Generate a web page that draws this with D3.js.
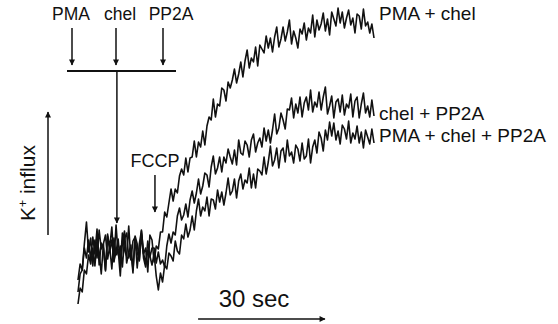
<!DOCTYPE html>
<html>
<head>
<meta charset="utf-8">
<script src="https://cdn.jsdelivr.net/npm/d3@7"></script>
<style>
  body { margin: 0; background: #fff; }
  text { font-family: "Liberation Sans", Arial, sans-serif; fill: #111; }
</style>
</head>
<body>
<div id="chart"></div>
<script>
// sampling interval of the traces, seconds
var step = 0.5;

// K+ influx traces (arbitrary units), one value every 0.5 s
var pmaChel = [18,36,40,66,
  88,58,72,44,70,52,80,61,66,40,74,63,83,49,58,71,45,77,60,54,
  84,50,69,73,42,66,79,56,62,38,75,70,48,64,
  61,78,78,98,93,107,121,109,121,117,134,141,135,152,138,152,153,169,153,168,
  163,179,165,184,193,190,211,193,206,204,222,220,209,228,222,230,241,227,236,248,
  233,249,260,242,252,248,263,244,265,261,257,274,262,272,258,273,283,263,271,283,
  269,278,290,266,279,272,262,281,276,287,270,282,277,295,273,290,280,286,297,279,
  291,275,298,291,284,302,287,298,282,292,300,285,292,277,296,294,281,301,284,288,
  277,286,272];
var chelPP2A = [30,46,40,62,52,70,
  50,73,56,81,45,67,62,39,76,58,70,48,85,55,64,43,71,77,52,60,
  37,74,66,50,80,57,46,69,53,62,
  62,47,58,46,50,43,64,76,67,78,75,94,102,90,95,106,93,110,119,107,
  117,131,116,124,137,135,123,143,154,136,142,153,138,153,147,161,153,146,160,145,
  170,157,155,169,165,153,170,176,158,167,172,163,182,169,180,167,180,196,176,182,
  197,190,181,201,200,212,192,206,197,213,193,207,213,200,220,198,208,203,218,200,
  213,223,196,204,214,192,208,211,198,215,195,206,202,216,193,209,213,192,206,217,
  197,204,193,210,194];
var pmaChelPP2A = [6,22,18,40,36,55,46,62,
  44,70,58,36,66,75,51,63,41,72,55,60,34,68,79,47,57,65,40,71,
  58,49,76,52,43,60,
  54,45,56,34,20,37,28,45,41,57,54,49,69,59,56,75,71,86,73,80,
  94,80,99,111,94,103,99,113,94,111,110,101,120,108,118,105,117,132,115,119,
  131,112,129,136,121,130,127,142,122,136,122,141,139,135,153,136,148,164,144,150,
  162,142,159,162,148,170,154,158,147,165,161,149,167,151,154,171,147,163,170,157,
  178,172,159,180,170,188,174,187,170,179,166,185,181,171,189,167,177,171,184,167,
  178,162,180,173,166,181,167];

var traceLabels = ["PMA + chel", "chel + PP2A", "PMA + chel + PP2A"];
var additionLabels = ["PMA", "chel", "PP2A"];

// event times (s) and scale bar
var additionTime = 9.2;
var fccpTime = 18.2;
var scaleBarStart = 28.4;
var scaleBarLength = 30;

var width = 558, height = 324;

var svg = d3.select("#chart").append("svg")
  .attr("width", width)
  .attr("height", height);

var defs = svg.append("defs");
defs.append("marker")
  .attr("id", "head")
  .attr("viewBox", "0 0 10 10")
  .attr("refX", 9).attr("refY", 5)
  .attr("markerWidth", 7).attr("markerHeight", 6)
  .attr("markerUnits", "userSpaceOnUse")
  .attr("orient", "auto")
  .append("path")
  .attr("d", "M0,0L10,5L0,10Z")
  .attr("fill", "#111");

var x = d3.scaleLinear().domain([0, 70]).range([78, 374]);
var y = d3.scaleLinear().domain([0, 300]).range([310, 10]);

var line = d3.line()
  .x(function(d, i) { return x(i * step); })
  .y(function(d) { return y(d); });

var traces = [pmaChel, chelPP2A, pmaChelPP2A];

svg.append("g").selectAll("path")
  .data(traces)
  .enter().append("path")
  .attr("d", line)
  .attr("fill", "none")
  .attr("stroke", "#111")
  .attr("stroke-width", 1.6)
  .attr("stroke-linejoin", "round");

// trace labels at the right
var labelY = [20, 120, 142];
svg.append("g").selectAll("text")
  .data(traceLabels)
  .enter().append("text")
  .attr("x", 379)
  .attr("y", function(d, i) { return labelY[i]; })
  .attr("font-size", "19px")
  .text(function(d) { return d; });

// additions: labels, arrows, bracket
var addX = [72, 116, 163];
var labelX = [71, 120, 171];
var adds = svg.append("g");
adds.selectAll("text")
  .data(additionLabels)
  .enter().append("text")
  .attr("x", function(d, i) { return labelX[i]; })
  .attr("y", 20)
  .attr("text-anchor", "middle")
  .attr("font-size", "17.5px")
  .text(function(d) { return d; });
adds.selectAll("line.add")
  .data(addX)
  .enter().append("line")
  .attr("class", "add")
  .attr("x1", function(d) { return d; })
  .attr("x2", function(d) { return d; })
  .attr("y1", 28).attr("y2", 65)
  .attr("stroke", "#111").attr("stroke-width", 1.5)
  .attr("marker-end", "url(#head)");
adds.append("line")
  .attr("x1", 67).attr("x2", 176)
  .attr("y1", 71).attr("y2", 71)
  .attr("stroke", "#111").attr("stroke-width", 2);
adds.append("line")
  .attr("x1", x(additionTime)).attr("x2", x(additionTime))
  .attr("y1", 71).attr("y2", y(87))
  .attr("stroke", "#111").attr("stroke-width", 1.5)
  .attr("marker-end", "url(#head)");

// FCCP
svg.append("text")
  .attr("x", x(fccpTime)).attr("y", 167)
  .attr("text-anchor", "middle")
  .attr("font-size", "18px")
  .text("FCCP");
svg.append("line")
  .attr("x1", x(fccpTime)).attr("x2", x(fccpTime))
  .attr("y1", 175).attr("y2", y(98))
  .attr("stroke", "#111").attr("stroke-width", 1.5)
  .attr("marker-end", "url(#head)");

// y axis arrow and label
svg.append("line")
  .attr("x1", 48).attr("x2", 48)
  .attr("y1", 235).attr("y2", 112)
  .attr("stroke", "#111").attr("stroke-width", 1.5)
  .attr("marker-end", "url(#head)");
var yl = svg.append("text")
  .attr("transform", "translate(35,183) rotate(-90)")
  .attr("text-anchor", "middle")
  .attr("font-size", "21px");
yl.append("tspan").text("K");
yl.append("tspan").attr("font-size", "12px").attr("dy", "-8").text("+");
yl.append("tspan").attr("dy", "8").text(" influx");

// time scale bar
svg.append("line")
  .attr("x1", x(scaleBarStart)).attr("x2", x(scaleBarStart + scaleBarLength))
  .attr("y1", 319).attr("y2", 319)
  .attr("stroke", "#111").attr("stroke-width", 1.5)
  .attr("marker-end", "url(#head)");
svg.append("text")
  .attr("x", 254).attr("y", 307)
  .attr("text-anchor", "middle")
  .attr("font-size", "24px")
  .text("30 sec");
</script>
</body>
</html>
